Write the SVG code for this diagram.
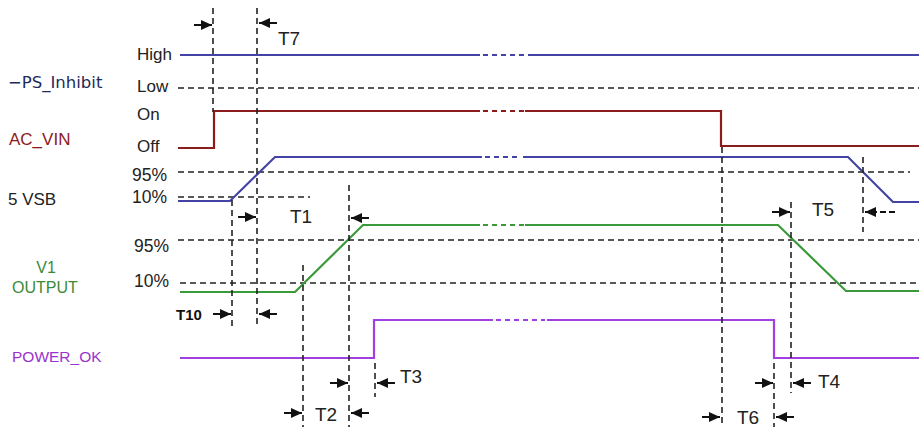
<svg xmlns="http://www.w3.org/2000/svg" width="919" height="427" viewBox="0 0 919 427">
<style>
.lbl{font-family:"Liberation Sans",Arial,sans-serif;font-size:17px;fill:#222}
.pct{font-family:"Liberation Sans",Arial,sans-serif;font-size:17.5px;fill:#222}
.t{font-family:"Liberation Sans",Arial,sans-serif;font-size:19px;fill:#222}
.dash{stroke:#222;stroke-width:1.6;stroke-dasharray:6 4;fill:none}
.arr{stroke:#111;stroke-width:2;fill:none;marker-end:url(#ah)}
.sig{fill:none;stroke-width:2.2;stroke-linejoin:miter}
.brk{fill:none;stroke-width:2.2;stroke-dasharray:5 4}
</style>
<defs>
<marker id="ah" markerUnits="userSpaceOnUse" markerWidth="12" markerHeight="11" refX="11" refY="5" orient="auto">
<path d="M0,0 L11,5 L0,10 z" fill="#111"/>
</marker>
</defs>
<rect width="919" height="427" fill="#fff"/>

<g id="labels">
<text x="8" y="88" style="font-family:'DejaVu Sans','Liberation Sans',sans-serif;font-size:16.5px;fill:#1f2a5c">−PS_Inhibit</text>
<text x="9" y="145" style="font-family:'Liberation Sans',Arial,sans-serif;font-size:17px;fill:#8b1a1a">AC_VIN</text>
<text x="8" y="205" style="font-family:'Liberation Sans',Arial,sans-serif;font-size:17px;fill:#222">5 VSB</text>
<text x="46" y="273" text-anchor="middle" style="font-family:'Liberation Sans',Arial,sans-serif;font-size:16px;fill:#3a8a3a">V1</text>
<text x="12" y="293" style="font-family:'Liberation Sans',Arial,sans-serif;font-size:16px;fill:#3a8a3a">OUTPUT</text>
<text x="12" y="362" style="font-family:'Liberation Sans',Arial,sans-serif;font-size:15.5px;fill:#9933cc">POWER_OK</text>
<text class="lbl" x="137" y="60">High</text>
<text class="lbl" x="137" y="92">Low</text>
<text class="lbl" x="137" y="120">On</text>
<text class="lbl" x="137" y="152">Off</text>
<text class="pct" x="132" y="181">95%</text>
<text class="pct" x="132" y="203">10%</text>
<text class="pct" x="134" y="252">95%</text>
<text class="pct" x="134" y="287">10%</text>
</g>

<g id="guides">
<line class="dash" x1="178" y1="88" x2="919" y2="88"/>
<line class="dash" x1="178" y1="172" x2="910" y2="172"/>
<line class="dash" x1="178" y1="197" x2="310" y2="197"/>
<line class="dash" x1="178" y1="240" x2="919" y2="240"/>
<line class="dash" x1="180" y1="283" x2="919" y2="283"/>
</g>

<g id="signals">
<path class="sig" stroke="#4343a6" d="M180,55 H480"/>
<line class="brk" stroke="#4343a6" x1="483" y1="55" x2="526" y2="55"/>
<path class="sig" stroke="#4343a6" d="M528,55 H919"/>

<path class="sig" stroke="#8b1c1c" d="M178,148 H214 V111 H480"/>
<line class="brk" stroke="#8b1c1c" x1="483" y1="111" x2="524" y2="111"/>
<path class="sig" stroke="#8b1c1c" d="M525,111 H721 V146 H919"/>

<path class="sig" stroke="#4343a6" d="M178,201 H230 L275,157 H482"/>
<line class="brk" stroke="#4343a6" x1="485" y1="157" x2="521" y2="157"/>
<path class="sig" stroke="#4343a6" d="M523,157 H848 L893,202 H919"/>

<path class="sig" stroke="#3a9a3a" d="M180,292 H295 L363,225 H480"/>
<line class="brk" stroke="#3a9a3a" x1="483" y1="225" x2="524" y2="225"/>
<path class="sig" stroke="#3a9a3a" d="M525,225 H778 L846,291 H919"/>

<path class="sig" stroke="#a040e0" d="M180,358 H374 V320 H493"/>
<line class="brk" stroke="#a040e0" x1="496" y1="320" x2="545" y2="320"/>
<path class="sig" stroke="#a040e0" d="M547,320 H774 V358 H919"/>
</g>

<g id="connectors">
<line class="dash" x1="213" y1="8" x2="213" y2="112"/>
<line class="dash" x1="257" y1="8" x2="257" y2="328"/>
<line class="dash" x1="232" y1="200" x2="232" y2="328"/>
<line class="dash" x1="303" y1="265" x2="303" y2="427"/>
<line class="dash" x1="349" y1="185" x2="349" y2="427"/>
<line class="dash" x1="375" y1="363" x2="375" y2="397"/>
<line class="dash" x1="722" y1="147" x2="722" y2="427"/>
<line class="dash" x1="774" y1="363" x2="774" y2="427"/>
<line class="dash" x1="791" y1="202" x2="791" y2="393"/>
<line class="dash" x1="863" y1="157" x2="863" y2="232"/>

<line class="arr" x1="194" y1="25" x2="212" y2="25"/>
<line class="arr" x1="277" y1="23" x2="259" y2="23"/>
<line class="arr" x1="238" y1="217" x2="256" y2="217"/>
<line class="arr" x1="369" y1="218" x2="351" y2="218"/>
<line class="arr" x1="213" y1="314" x2="231" y2="314"/>
<line class="arr" x1="277" y1="314" x2="259" y2="314"/>
<line class="arr" x1="284" y1="413" x2="302" y2="413"/>
<line class="arr" x1="369" y1="413" x2="351" y2="413"/>
<line class="arr" x1="330" y1="383" x2="348" y2="383"/>
<line class="arr" x1="395" y1="383" x2="377" y2="383"/>
<line class="arr" x1="755" y1="383" x2="773" y2="383"/>
<line class="arr" x1="811" y1="383" x2="793" y2="383"/>
<line class="arr" x1="702" y1="417" x2="720" y2="417"/>
<line class="arr" x1="794" y1="417" x2="776" y2="417"/>
<line class="arr" x1="772" y1="212" x2="790" y2="212"/>
<line x1="895" y1="212" x2="876" y2="212" stroke="#111" stroke-width="2" stroke-dasharray="6 3"/>
<line class="arr" x1="877" y1="212" x2="865" y2="212"/>
</g>

<g id="timing-labels">
<text class="t" x="278" y="45">T7</text>
<text class="t" x="290" y="223">T1</text>
<text x="176" y="320" style="font-family:'Liberation Sans',Arial,sans-serif;font-size:15px;font-weight:bold;fill:#111">T10</text>
<text class="t" x="315" y="421">T2</text>
<text class="t" x="400" y="383">T3</text>
<text class="t" x="818" y="388">T4</text>
<text class="t" x="812" y="216">T5</text>
<text class="t" x="737" y="424">T6</text>
</g>
</svg>
